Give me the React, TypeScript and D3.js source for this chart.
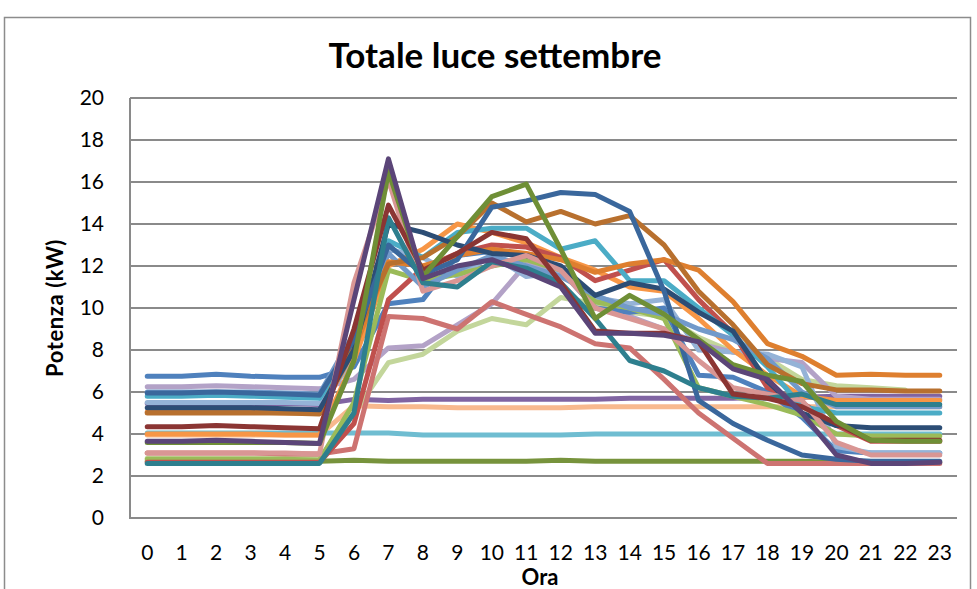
import { FC, useEffect, useRef } from "react";
import * as d3 from "d3";

const hours = d3.range(0, 24).map((h) => String(h));
const yTicks = [0, 2, 4, 6, 8, 10, 12, 14, 16, 18, 20];

// one array per day, values in kW
const flatGreen = [2.7, 2.7, 2.7, 2.7, 2.7, 2.7, 2.75, 2.7, 2.7, 2.7, 2.7, 2.7, 2.75, 2.7, 2.7, 2.7, 2.7, 2.7, 2.7, 2.7, 2.65, 2.65, 2.65, 2.65];
const flatPurple = [5.45, 5.45, 5.45, 5.45, 5.45, 5.4, 5.65, 5.6, 5.65, 5.65, 5.65, 5.65, 5.65, 5.65, 5.7, 5.7, 5.7, 5.7, 5.75, 5.75, 5.8, 5.8, 5.8, 5.8];
const flatPeach = [3.95, 3.95, 3.95, 3.95, 3.95, 3.95, 5.35, 5.3, 5.3, 5.25, 5.25, 5.25, 5.25, 5.3, 5.3, 5.3, 5.3, 5.3, 5.3, 5.3, 5.3, 5.3, 5.3, 5.3];
const flatLightBlue = [4.05, 4.05, 4.05, 4.05, 4.05, 4.05, 4.05, 4.05, 3.95, 3.95, 3.95, 3.95, 3.95, 4.0, 4.0, 4.0, 4.0, 4.0, 4.0, 4.0, 4.0, 4.0, 4.0, 4.0];
const lightGreen = [2.85, 2.85, 2.85, 2.85, 2.85, 2.85, 5.0, 7.4, 7.8, 8.9, 9.5, 9.2, 10.5, 10.2, 9.8, 9.6, 8.6, 7.9, 7.6, 6.6, 6.3, 6.2, 6.1, null];
const lavender = [6.25, 6.25, 6.3, 6.25, 6.2, 6.15, 6.6, 8.1, 8.2, 9.2, 10.2, 12.1, 11.8, 10.0, 9.6, 9.0, 8.3, 7.9, 7.6, 7.4, 5.8, 5.65, 5.65, 5.65];
const salmon = [3.1, 3.1, 3.1, 3.1, 3.05, 3.05, 3.3, 9.6, 9.5, 9.0, 10.3, 9.7, 9.1, 8.3, 8.1, 6.6, 5.0, 3.8, 2.6, 2.6, 2.6, 2.6, 2.6, 2.6];
const blue = [6.75, 6.75, 6.85, 6.75, 6.7, 6.7, 7.2, 10.2, 10.4, 12.5, 12.7, 12.4, 11.8, 10.0, 9.8, 10.0, 6.8, 6.7, 6.0, 4.8, 3.2, 3.1, 3.1, 3.1];
const periwinkle = [5.5, 5.5, 5.5, 5.5, 5.5, 5.45, 7.5, 12.8, 12.4, 11.5, 12.5, 11.5, 11.7, 10.5, 10.2, 10.4, 8.0, 7.9, 7.8, 7.2, 3.4, 3.1, 3.1, 3.1];
const orange = [4.0, 4.0, 4.0, 4.0, 3.95, 3.95, 7.5, 12.0, 12.8, 14.0, 13.6, 13.1, 12.4, 11.8, 11.0, 10.8, 9.5, 8.0, 6.8, 5.8, 5.6, 5.6, 5.6, 5.6];
const green = [2.8, 2.8, 2.8, 2.8, 2.8, 2.75, 5.5, 11.8, 11.3, 11.6, 12.0, 12.3, 11.8, 10.3, 10.0, 9.5, 6.2, 5.8, 5.4, 4.9, 4.0, 3.9, 3.9, 3.9];
const red = [2.65, 2.65, 2.65, 2.65, 2.65, 2.65, 4.5, 10.4, 11.9, 12.6, 13.0, 12.9, 12.4, 11.3, 11.8, 12.3, 10.4, 8.8, 6.2, 5.5, 4.4, 3.65, 3.65, 3.65];
const aqua = [5.8, 5.8, 5.85, 5.8, 5.75, 5.7, 8.0, 13.2, 12.4, 13.6, 13.8, 13.8, 12.8, 13.2, 11.3, 11.3, 10.0, 8.7, 7.2, 5.3, 5.0, 5.0, 5.0, 5.0];
const midBlue = [6.0, 6.0, 6.0, 6.0, 5.95, 5.9, 8.8, 12.6, 11.0, 11.8, 12.5, 12.0, 11.5, 10.6, 10.0, 9.7, 9.0, 8.5, 7.6, 6.0, 5.3, 5.3, 5.3, 5.3];
const brightOrange = [5.05, 5.05, 5.05, 5.05, 5.0, 5.0, 8.0, 12.2, 12.0, 12.5, 12.8, 12.6, 12.3, 11.7, 12.1, 12.3, 11.8, 10.3, 8.3, 7.7, 6.8, 6.85, 6.8, 6.8];
const brown = [5.0, 5.0, 5.0, 5.0, 5.0, 4.95, 8.5, 12.1, 12.4, 13.4, 15.0, 14.1, 14.6, 14.0, 14.4, 13.0, 10.8, 9.2, 7.3, 6.4, 6.1, 6.1, 6.05, 6.05];
const navy = [5.25, 5.25, 5.25, 5.25, 5.2, 5.15, 8.0, 14.0, 13.6, 13.0, 12.6, 12.5, 12.0, 10.6, 11.2, 10.9, 9.8, 8.9, 6.5, 5.0, 4.4, 4.3, 4.3, 4.3];
const darkBlue = [5.95, 5.95, 6.0, 5.95, 5.9, 5.85, 8.5, 13.0, 11.6, 12.3, 14.8, 15.1, 15.5, 15.4, 14.6, 10.8, 5.6, 4.5, 3.7, 3.0, 2.8, 2.7, 2.7, 2.7];
const pink = [3.1, 3.1, 3.1, 3.1, 3.1, 3.05, 11.2, 16.1, 10.8, 11.3, 12.0, 12.5, 11.8, 10.0, 9.5, 9.0, 7.5, 6.2, 5.9, 5.6, 3.6, 3.0, 3.0, 3.0];
const teal = [2.6, 2.6, 2.6, 2.6, 2.6, 2.6, 5.0, 14.3, 11.2, 11.0, 12.2, 11.9, 11.2, 9.5, 7.5, 7.0, 6.2, 5.8, 5.7, 5.9, 5.4, 5.4, 5.4, 5.4];
const darkRed = [4.35, 4.35, 4.4, 4.35, 4.3, 4.25, 9.0, 14.9, 11.8, 12.6, 13.6, 13.3, 11.2, 8.9, 8.8, 8.8, 8.4, 5.9, 5.7, 5.3, 4.5, 3.7, 3.7, 3.7];
const olive = [3.6, 3.6, 3.6, 3.6, 3.6, 3.55, 7.5, 16.5, 11.5, 13.4, 15.3, 15.9, 12.8, 9.5, 10.6, 9.7, 8.5, 7.3, 6.8, 6.5, 4.6, 3.7, 3.65, 3.65];
const darkPurple = [3.65, 3.65, 3.7, 3.65, 3.6, 3.55, 10.4, 17.1, 11.4, 12.0, 12.3, 11.7, 11.0, 8.8, 8.8, 8.7, 8.4, 7.1, 6.6, 5.0, 3.0, 2.6, 2.6, 2.65];

const seriesValues = [
  flatGreen, flatPurple, flatPeach, flatLightBlue, lightGreen, lavender,
  salmon, blue, periwinkle, orange, green, red, aqua, midBlue,
  brightOrange, brown, navy, darkBlue, pink, teal, darkRed, olive, darkPurple,
];
const seriesColors = [
  "#77933C", "#8064A2", "#F8B98E", "#6FBDD1", "#C3D69B", "#B3A2C7",
  "#CD7371", "#4F81BD", "#95B3D7", "#F79646", "#9BBB59", "#C0504D", "#4BACC6", "#729ACA",
  "#DE7F2F", "#B8702E", "#2C4D75", "#3A679C", "#D99694", "#2E7F8E", "#8B3533", "#6F8F36", "#5B4578",
];

const App: FC = () => {
  const ref = useRef<SVGSVGElement>(null);
  const W = 977;
  const H = 589;
  const margin = { top: 98, right: 20, bottom: 71, left: 130 };

  const runChart = () => {
    const svg = d3.select(ref.current);
    svg.selectAll("*").remove();
    const font = "Lato, 'Open Sans', sans-serif";

    const x = d3
      .scalePoint()
      .domain(hours)
      .range([margin.left, 957])
      .padding(0.5);
    const y = d3
      .scaleLinear()
      .domain([0, 20])
      .range([H - margin.bottom, margin.top]);

    svg.append("rect").attr("width", W).attr("height", H).attr("fill", "white");
    svg
      .append("rect")
      .attr("x", 4.5)
      .attr("y", 17.5)
      .attr("width", 966)
      .attr("height", 620)
      .attr("fill", "none")
      .attr("stroke", "#8c8c8c")
      .attr("stroke-width", 1.5);

    svg
      .append("text")
      .attr("x", 495)
      .attr("y", 68)
      .attr("text-anchor", "middle")
      .attr("font-family", font)
      .attr("font-weight", "bold")
      .attr("font-size", 35)
      .text("Totale luce settembre");

    // gridlines
    svg
      .append("g")
      .selectAll("line")
      .data(yTicks.slice(1))
      .join("line")
      .attr("x1", margin.left)
      .attr("x2", 957)
      .attr("y1", (d) => y(d))
      .attr("y2", (d) => y(d))
      .attr("stroke", "#8a8a8a")
      .attr("stroke-width", 2);

    // axes
    svg
      .append("path")
      .attr("d", `M${margin.left},${y(20)}V${y(0)}H957`)
      .attr("fill", "none")
      .attr("stroke", "#8a8a8a")
      .attr("stroke-width", 2);

    svg
      .append("g")
      .attr("text-anchor", "end")
      .attr("font-family", font)
      .attr("font-size", 21)
      .selectAll("text")
      .data(yTicks)
      .join("text")
      .attr("x", 104)
      .attr("y", (d) => y(d) + 7)
      .text((d) => d);

    svg
      .append("g")
      .attr("text-anchor", "middle")
      .attr("font-family", font)
      .attr("font-size", 21)
      .selectAll("text")
      .data(hours)
      .join("text")
      .attr("x", (d) => x(d))
      .attr("y", 560)
      .text((d) => d);

    svg
      .append("text")
      .attr("x", 540)
      .attr("y", 585)
      .attr("text-anchor", "middle")
      .attr("font-family", font)
      .attr("font-weight", "bold")
      .attr("font-size", 22)
      .text("Ora");

    svg
      .append("text")
      .attr("transform", `translate(63, ${(y(0) + y(20)) / 2}) rotate(-90)`)
      .attr("text-anchor", "middle")
      .attr("font-family", font)
      .attr("font-weight", "bold")
      .attr("font-size", 22)
      .attr("letter-spacing", 0.6)
      .text("Potenza (kW)");

    const line = d3
      .line<number | null>()
      .defined((d) => d !== null)
      .x((_, i) => x(hours[i]) as number)
      .y((d) => y(d as number));

    svg
      .append("g")
      .attr("fill", "none")
      .attr("stroke-width", 5)
      .attr("stroke-linejoin", "round")
      .attr("stroke-linecap", "round")
      .selectAll("path")
      .data(seriesValues)
      .join("path")
      .attr("stroke", (_, i) => seriesColors[i])
      .attr("d", (d) => line(d));
  };

  useEffect(() => {
    runChart();
  }, []);

  return (
    <svg
      ref={ref}
      width={W}
      height={H}
      style={{ position: "absolute", left: 0, top: 0, display: "block" }}
    />
  );
};

export default App;
